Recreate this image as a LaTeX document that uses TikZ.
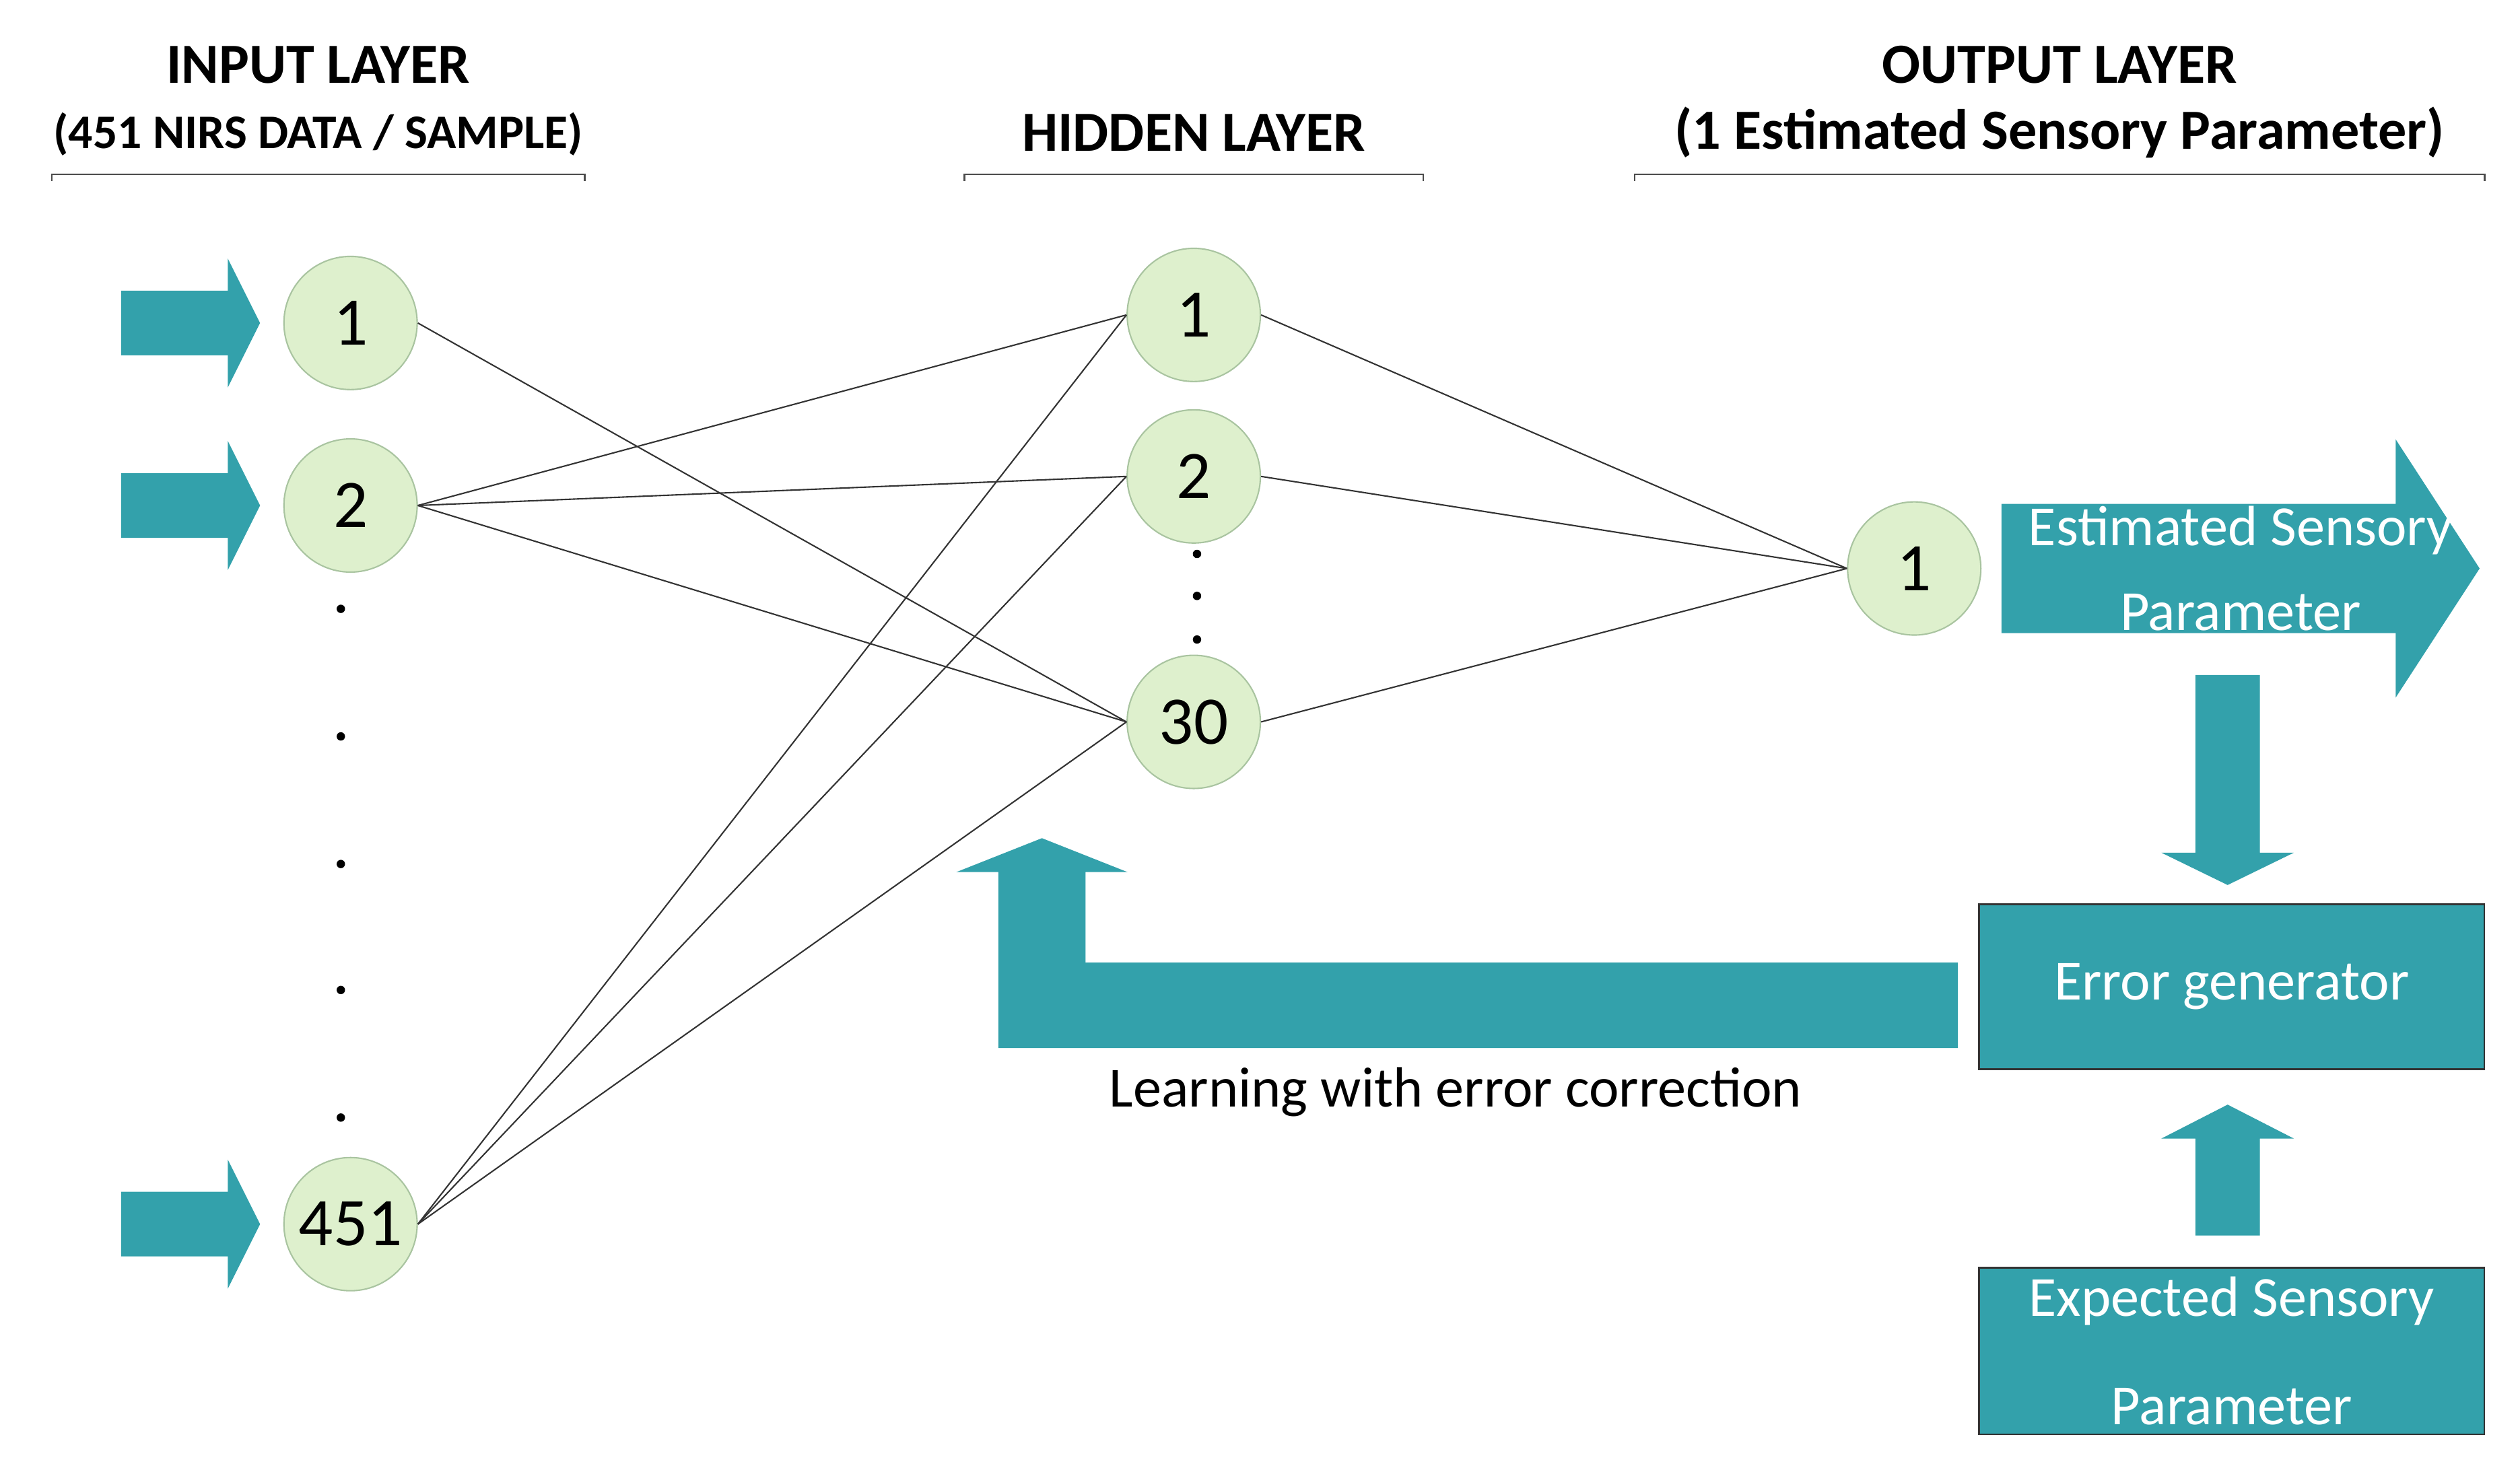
\documentclass[tikz,border=0pt]{standalone}
\usepackage{fontspec}
\setmainfont{Carlito}
\begin{document}
\definecolor{teal}{HTML}{33A1AB}
\definecolor{nfill}{HTML}{DEF0CD}
\definecolor{nline}{HTML}{A9C4A0}
\begin{tikzpicture}[x=0.02cm,y=-0.02cm,
  neuron/.style={circle,fill=nfill,draw=nline,line width=0.5pt,minimum width=1.6cm,minimum height=1.65cm,inner sep=0pt,font=\fontsize{24}{28}\selectfont},
  head/.style={font=\bfseries\fontsize{20}{24}\selectfont},
  sub/.style={font=\bfseries\fontsize{17}{20}\selectfont},
  link/.style={draw=black!80,line width=0.5pt},
  tarrow/.style={fill=teal},
  wtext/.style={text=white,font=\fontsize{20}{30}\selectfont,align=center},
  box/.style={fill=teal,draw=black!80,line width=0.6pt}]
\useasboundingbox (0,0) rectangle (1560,910);
% headings
\node[head] (hin) at (197,40) {INPUT LAYER};
\node[sub] (hin2) at (197,83) {(451 NIRS DATA / SAMPLE)};
\node[head] (hhid) at (739,82) {HIDDEN LAYER};
\node[head] (hout) at (1275,40) {OUTPUT LAYER};
\node[head] (hout2) at (1275,82) {(1 Estimated Sensory Parameter)};
\draw[black!70,line width=0.6pt] (32,112) -- (32,108) -- (362,108) -- (362,112);
\draw[black!70,line width=0.6pt] (597,112) -- (597,108) -- (881,108) -- (881,112);
\draw[black!70,line width=0.6pt] (1012,112) -- (1012,108) -- (1538,108) -- (1538,112);
% input arrows
\foreach \y in {200,313,758}{
  \fill[tarrow] (75,\y-20) -- (141,\y-20) -- (141,\y-40) -- (161,\y) -- (141,\y+40) -- (141,\y+20) -- (75,\y+20) -- cycle;}
% neurons
\node[neuron] (i1) at (217,200) {1};
\node[neuron] (i2) at (217,313) {2};
\node[neuron] (i451) at (217,758) {451};
\node[neuron] (h1) at (739,195) {1};
\node[neuron] (h2) at (739,295) {2};
\node[neuron] (h30) at (739,447) {30};
\node[neuron] (o1) at (1185,352) {1};
\foreach \y in {377,456,535,613,692}{\fill (211,\y) circle (2.6);}
\foreach \y in {343,369,396}{\fill (741,\y) circle (2.6);}
% links
\draw[link] (i1.east) -- (h30.west);
\foreach \h in {h1,h2,h30}{
  \draw[link] (i2.east) -- (\h.west);
  \draw[link] (i451.east) -- (\h.west);
  \draw[link] (\h.east) -- (o1.west);}
% output arrow
\fill[tarrow] (1239,312) -- (1483,312) -- (1483,272) -- (1535,352) -- (1483,432) -- (1483,392) -- (1239,392) -- cycle;
\node[wtext] (est) at (1387,352) {Estimated Sensory\\Parameter};
% down arrow
\fill[tarrow] (1359,418) -- (1399,418) -- (1399,528) -- (1420,528) -- (1379,548) -- (1338,528) -- (1359,528) -- cycle;
% boxes
\node[box,minimum width=6.26cm,minimum height=2.04cm,wtext] (err) at (1381.5,611) {Error generator};
\node[box,minimum width=6.26cm,minimum height=2.06cm,wtext,font=\fontsize{20}{38}\selectfont] (exp) at (1381.5,836.5) {Expected Sensory\\Parameter};
% up arrow
\fill[tarrow] (1359,765) -- (1399,765) -- (1399,705) -- (1420,705) -- (1379,684) -- (1338,705) -- (1359,705) -- cycle;
% feedback arrow
\fill[tarrow] (1212,596) -- (672,596) -- (672,540) -- (698,540) -- (645,519) -- (592,540) -- (618,540) -- (618,649) -- (1212,649) -- cycle;
\node[font=\fontsize{20}{24}\selectfont] (learn) at (901,676) {Learning with error correction};
\end{tikzpicture}
\end{document}
